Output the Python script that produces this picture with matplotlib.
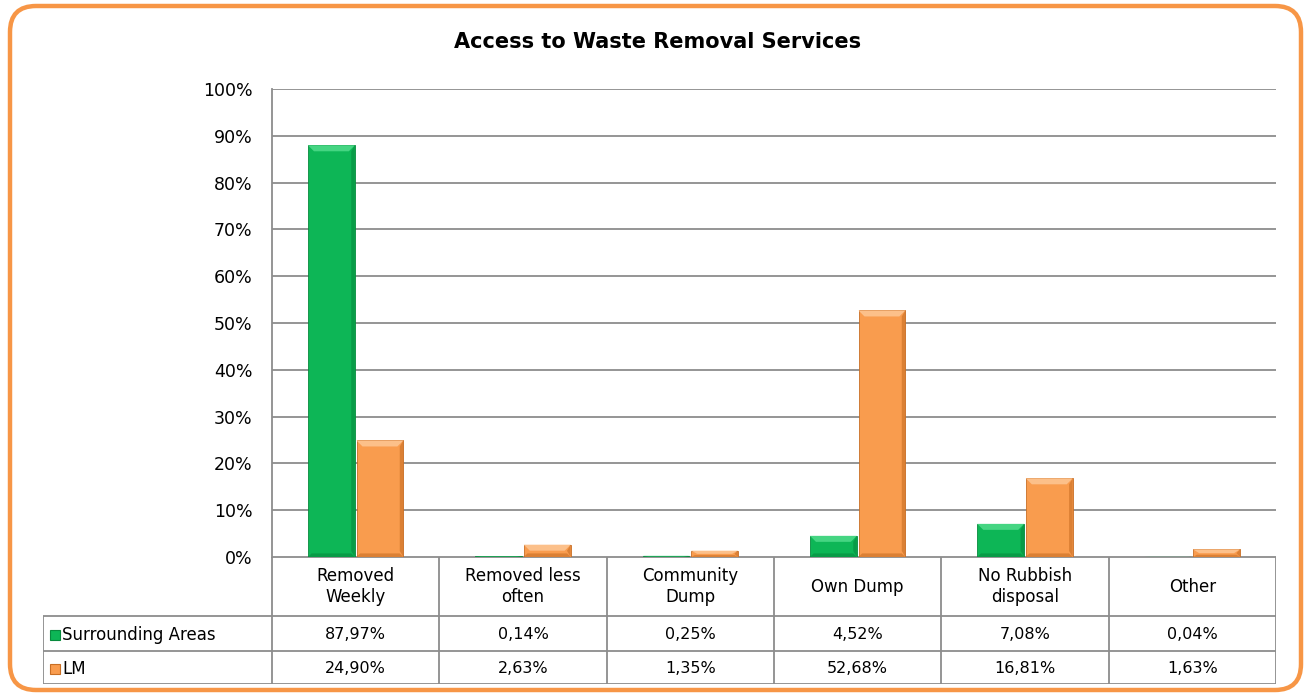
import matplotlib
matplotlib.use("Agg")
import matplotlib.pyplot as plt
from matplotlib.patches import FancyBboxPatch, Rectangle, Polygon
import numpy as np

categories = ["Removed\nWeekly", "Removed less\noften", "Community\nDump", "Own Dump", "No Rubbish\ndisposal", "Other"]
series_names = ["Surrounding Areas", "LM"]
surrounding = [87.97, 0.14, 0.25, 4.52, 7.08, 0.04]
lm = [24.90, 2.63, 1.35, 52.68, 16.81, 1.63]
surrounding_lbl = ["87,97%", "0,14%", "0,25%", "4,52%", "7,08%", "0,04%"]
lm_lbl = ["24,90%", "2,63%", "1,35%", "52,68%", "16,81%", "1,63%"]
yticks = [0, 10, 20, 30, 40, 50, 60, 70, 80, 90, 100]
ytick_lbl = [f"{v}%" for v in yticks]
title = "Access to Waste Removal Services"

GREEN = "#0DB656"
GREEN_L = "#45D582"
GREEN_D = "#078A3D"
ORANGE = "#F99C4E"
ORANGE_L = "#FCC08A"
ORANGE_D = "#C86E24"
GRID = "#8C8C8C"
plt.rcParams['font.family'] = ["DejaVu Sans"]

W, H = 1311, 697
fig = plt.figure(figsize=(W / 100, H / 100), dpi=100)

# background / border axes in pixel coordinates
bg = fig.add_axes([0, 0, 1, 1], zorder=0)
bg.set_xlim(0, W)
bg.set_ylim(H, 0)
bg.axis("off")
bg.add_patch(FancyBboxPatch((10, 6), W - 20, H - 13,
                            boxstyle="round,pad=0,rounding_size=26",
                            facecolor="white", edgecolor="#F79646", linewidth=3.2))
bg.text(658, 42, title, ha="center", va="center", fontsize=15, fontweight="bold", color="black")

# main chart
L, R, T, B = 272, 1276, 89, 557
ax = fig.add_axes([L / W, 1 - B / H, (R - L) / W, (B - T) / H], zorder=2)
ax.patch.set_alpha(0)
x = np.arange(len(categories))
bw = 0.28
off = 0.145
b1 = ax.bar(x - off, surrounding, bw, color=GREEN, edgecolor=GREEN_D, linewidth=0.6, zorder=3)
b2 = ax.bar(x + off, lm, bw, color=ORANGE, edgecolor=ORANGE_D, linewidth=0.6, zorder=3)
ax.set_xlim(-0.5, len(categories) - 0.5)
ax.set_ylim(0, 100)

# bevel effect derived from bar geometry
px_x = (len(categories)) / (R - L)
px_y = 100 / (B - T)
for bars, lc, dc in [(b1, GREEN_L, GREEN_D), (b2, ORANGE_L, ORANGE_D)]:
    for p in bars.patches:
        x0, w, h = p.get_x(), p.get_width(), p.get_height()
        x1 = x0 + w
        d = min(6 * px_x, w / 2)
        hh = min(6 * px_y, h / 2)
        top = h
        ax.add_patch(Polygon([(x0, top), (x1, top), (x1 - d, top - hh), (x0 + d, top - hh)],
                             closed=True, facecolor=lc, edgecolor="none", zorder=4))
        ax.add_patch(Polygon([(x1, top), (x1, 0), (x1 - d * 0.6, hh), (x1 - d * 0.6, top - hh)],
                             closed=True, facecolor=dc, edgecolor="none", alpha=0.6, zorder=4))
        ax.add_patch(Polygon([(x0, 0), (x1, 0), (x1 - d * 0.6, hh * 0.6), (x0 + d * 0.6, hh * 0.6)],
                             closed=True, facecolor=dc, edgecolor="none", alpha=0.6, zorder=4))

ax.set_yticks(yticks)
ax.set_yticklabels(ytick_lbl, fontsize=12.5)
ax.set_xticks([])
ax.tick_params(axis="y", length=0, pad=14)
ax.yaxis.grid(True, color=GRID, linewidth=1.3, zorder=0)
ax.set_axisbelow(True)
for s in ["top", "right", "bottom"]:
    ax.spines[s].set_visible(False)
ax.spines["left"].set_color(GRID)
ax.spines["left"].set_linewidth(1.3)

# data table
TL, TB = 43, 684
unit = (R - L) / len(categories)
left_units = (L - TL) / unit
tax = fig.add_axes([TL / W, 1 - TB / H, (R - TL) / W, (TB - B) / H], zorder=3)
tax.set_xlim(-0.5 - left_units, len(categories) - 0.5)
tax.set_ylim(TB - B, 0)
tax.axis("off")
rows = [0, 59, 94, TB - B]
xl = -0.5 - left_units
xs = -0.5
xe = len(categories) - 0.5
lk = dict(color=GRID, linewidth=1.3, solid_capstyle="butt")
tax.plot([xs, xe], [rows[0], rows[0]], **lk)
for r in rows[1:]:
    tax.plot([xl, xe], [r, r], **lk)
for i in range(len(categories) + 1):
    tax.plot([xs + i, xs + i], [rows[0], rows[3]], **lk)
tax.plot([xl, xl], [rows[1], rows[3]], **lk)

for i, c in enumerate(categories):
    tax.text(i, (rows[0] + rows[1]) / 2, c, ha="center", va="center", fontsize=12, linespacing=1.15)
for i in range(len(categories)):
    tax.text(i, (rows[1] + rows[2]) / 2 + 1, surrounding_lbl[i], ha="center", va="center", fontsize=11.5)
    tax.text(i, (rows[2] + rows[3]) / 2 + 1, lm_lbl[i], ha="center", va="center", fontsize=11.5)

sq = 10 / unit
for j, (name, col, ec) in enumerate(zip(series_names, [GREEN, ORANGE], [GREEN_D, ORANGE_D])):
    cy = (rows[1 + j] + rows[2 + j]) / 2 + 1
    x0 = xl + 7 / unit
    tax.add_patch(Rectangle((x0, cy - 5), sq, 10, facecolor=col, edgecolor=ec, linewidth=0.8))
    tax.text(x0 + sq + 2 / unit, cy, name, ha="left", va="center", fontsize=12)

fig.savefig("out.png", dpi=100)
